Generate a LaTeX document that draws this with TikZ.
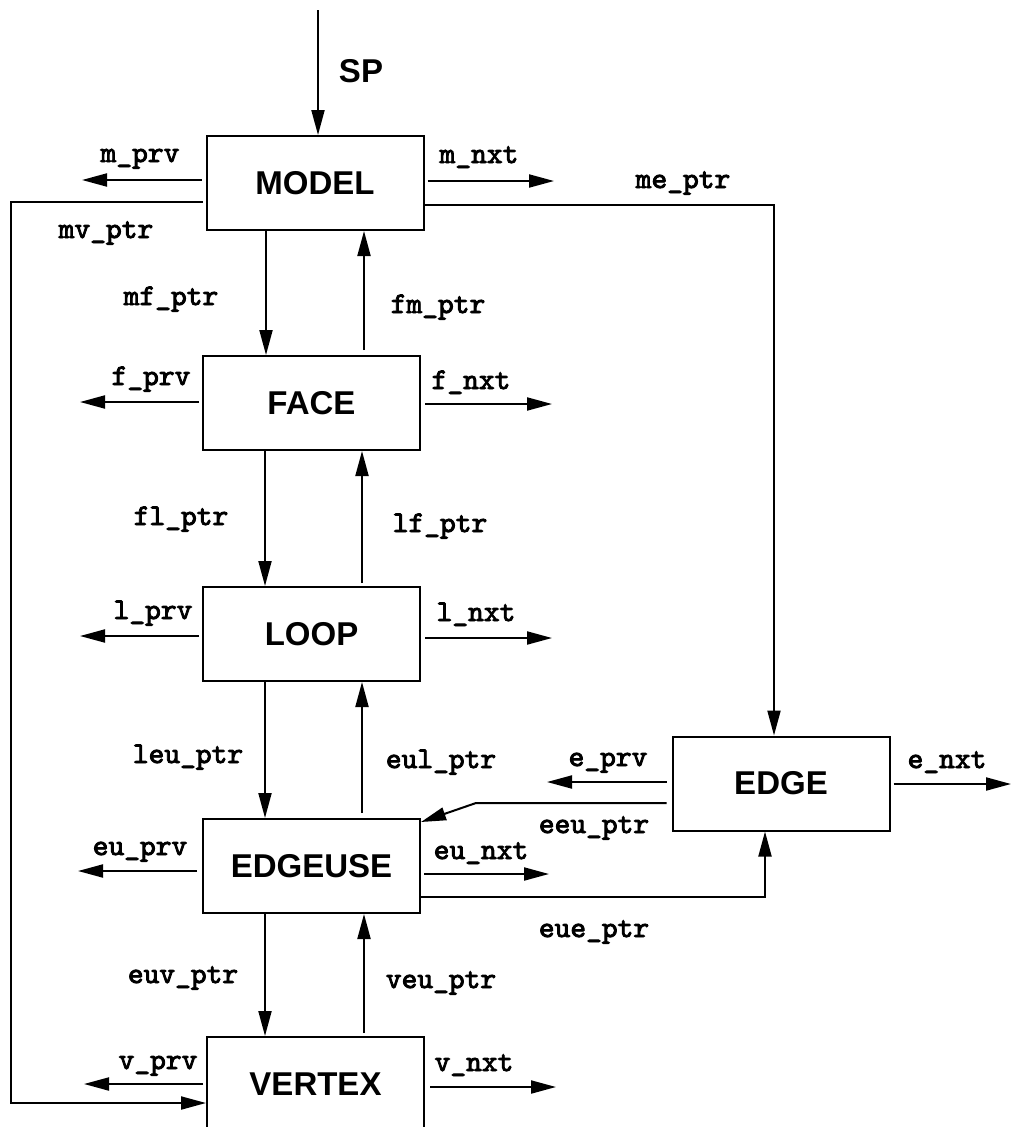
\documentclass[tikz,border=0pt]{standalone}
\usepackage{fontspec}
\setmainfont{Liberation Sans}
\newfontfamily\lblmono{lmmono10-regular}[Extension=.otf,FakeBold=3]
\usetikzlibrary{arrows.meta}
\begin{document}
\begin{tikzpicture}[x=1pt,y=-1pt,
  box/.style={draw,line width=2pt,minimum width=217pt,minimum height=94pt,inner sep=0pt,font=\fontsize{33}{33}\selectfont\bfseries},
  lab/.style={anchor=base,inner sep=0pt,font=\fontsize{30}{30}\selectfont\lblmono},
  big/.style={anchor=base,inner sep=0pt,font=\fontsize{33}{33}\selectfont\bfseries},
  arr/.style={line width=2pt,-{Triangle[length=25pt,width=13pt]}}]
\useasboundingbox (0,0) rectangle (1012,1127);
\clip (0,0) rectangle (1012,1127);

% boxes
\node[box] (model) at (315,183) {MODEL};
\node[box] (face) at (311.5,403) {FACE};
\node[box] (loop) at (311.5,634) {LOOP};
\node[box] (edgeuse) at (311.5,866) {EDGEUSE};
\node[box] (vertex) at (315.5,1084) {VERTEX};
\node[box] (edge) at (781,783.5) {EDGE};

% entry pointer
\coordinate (sp) at (318,10);
\draw[arr] (sp) -- (sp |- model.north);
\node[big] (sptext) at (361,82) {SP};

% prv / nxt stubs
\coordinate (mprv) at (82,180);
\coordinate (mnxt) at (554,181);
\coordinate (fprv) at (80,402);
\coordinate (fnxt) at (552,404);
\coordinate (lprv) at (80,636);
\coordinate (lnxt) at (552,638);
\coordinate (euprv) at (78,871);
\coordinate (eunxt) at (549,874);
\coordinate (vprv) at (84,1084);
\coordinate (vnxt) at (556,1087);
\coordinate (eprv) at (547,782);
\coordinate (enxt) at (1011,784);
\draw[arr,shorten <=4pt] (model.west |- mprv) -- (mprv);
\draw[arr,shorten <=3pt] (model.east |- mnxt) -- (mnxt);
\draw[arr,shorten <=3pt] (face.west |- fprv) -- (fprv);
\draw[arr,shorten <=4pt] (face.east |- fnxt) -- (fnxt);
\draw[arr,shorten <=3pt] (loop.west |- lprv) -- (lprv);
\draw[arr,shorten <=4pt] (loop.east |- lnxt) -- (lnxt);
\draw[arr,shorten <=5pt] (edgeuse.west |- euprv) -- (euprv);
\draw[arr,shorten <=3pt] (edgeuse.east |- eunxt) -- (eunxt);
\draw[arr,shorten <=3pt] (vertex.west |- vprv) -- (vprv);
\draw[arr,shorten <=5pt] (vertex.east |- vnxt) -- (vnxt);
\draw[arr,shorten <=5pt] (edge.west |- eprv) -- (eprv);
\draw[arr,shorten <=3pt] (edge.east |- enxt) -- (enxt);

% vertical pointers
\draw[arr] (266,0 |- model.south) -- (266,0 |- face.north);
\draw[arr,shorten <=5pt] (364,0 |- face.north) -- (364,0 |- model.south);
\draw[arr] (265,0 |- face.south) -- (265,0 |- loop.north);
\draw[arr,shorten <=3pt] (362,0 |- loop.north) -- (362,0 |- face.south);
\draw[arr] (265,0 |- loop.south) -- (265,0 |- edgeuse.north);
\draw[arr,shorten <=5pt] (362,0 |- edgeuse.north) -- (362,0 |- loop.south);
\draw[arr] (265,0 |- edgeuse.south) -- (265,0 |- vertex.north);
\draw[arr,shorten <=3pt] (364,0 |- vertex.north) -- (364,0 |- edgeuse.south);

% long pointers
\draw[arr] (model.east |- 0,205) -| (774,0 |- edge.north);
\draw[arr,shorten <=5pt] (edge.west |- 0,803) -- (476,803) -- ([yshift=-4pt]edgeuse.north east);
\draw[arr] (edgeuse.east |- 0,897) -| (765,0 |- edge.south);
\draw[arr,shorten <=3pt] (model.west |- 0,202) -- (11,202) -- (11,1103) -- (vertex.west |- 0,1103);

% labels
\node[lab] (tmprv) at (140,162) {m\_prv};
\node[lab] (tmnxt) at (479,163) {m\_nxt};
\node[lab] (tmv) at (106,238) {mv\_ptr};
\node[lab] (tme) at (683,188) {me\_ptr};
\node[lab] (tmf) at (171,305) {mf\_ptr};
\node[lab] (tfm) at (438,313) {fm\_ptr};
\node[lab] (tfprv) at (151,385) {f\_prv};
\node[lab] (tfnxt) at (471,389) {f\_nxt};
\node[lab] (tfl) at (181,525) {fl\_ptr};
\node[lab] (tlf) at (440,532) {lf\_ptr};
\node[lab] (tlprv) at (153,619) {l\_prv};
\node[lab] (tlnxt) at (476,621) {l\_nxt};
\node[lab] (tleu) at (188,763) {leu\_ptr};
\node[lab] (teul) at (441,768) {eul\_ptr};
\node[lab] (teuprv) at (140,855) {eu\_prv};
\node[lab] (teunxt) at (481,859) {eu\_nxt};
\node[lab] (teprv) at (608,766) {e\_prv};
\node[lab] (tenxt) at (947,768) {e\_nxt};
\node[lab] (teeu) at (594,833) {eeu\_ptr};
\node[lab] (teue) at (594,937) {eue\_ptr};
\node[lab] (teuv) at (183,983) {euv\_ptr};
\node[lab] (tveu) at (441,988) {veu\_ptr};
\node[lab] (tvprv) at (158,1069) {v\_prv};
\node[lab] (tvnxt) at (474,1071) {v\_nxt};
\end{tikzpicture}
\end{document}
